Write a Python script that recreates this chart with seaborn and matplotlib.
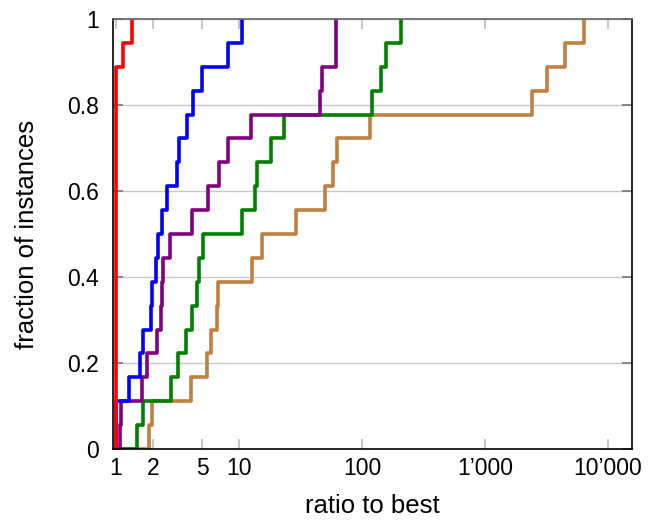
import numpy as np
import pandas as pd
import seaborn as sns
import matplotlib.pyplot as plt
from matplotlib.ticker import FixedLocator, FixedFormatter, NullLocator

# ratio to best solver on each of the 18 instances (read from the profile)
ratio_red = [1.0] * 16 + [1.14, 1.35]
ratio_blue = [1.0, 1.0, 1.28, 1.57, 1.65, 1.91, 1.97, 2.10, 2.21, 2.37,
              2.58, 3.11, 3.23, 3.76, 4.25, 4.98, 8.19, 10.5]
ratio_purple = [1.08, 1.09, 1.62, 1.80, 2.14, 2.32, 2.38, 2.42, 2.75, 4.12,
                5.63, 6.92, 8.19, 12.5, 45.6, 47.0, 61.5, 61.8]
ratio_green = [1.47, 1.67, 2.80, 3.21, 3.71, 4.15, 4.53, 4.76, 5.13, 10.5,
               13.5, 13.9, 18.1, 23.4, 120, 142, 157, 206]
ratio_brown = [1.86, 1.95, 4.05, 5.52, 5.89, 6.59, 6.79, 12.7, 15.3, 28.9,
               50.0, 57.8, 63.0, 116, 2400, 3175, 4470, 6415]

solvers = ['brown', 'green', 'purple', 'blue', 'red']
ratios = [ratio_brown, ratio_green, ratio_purple, ratio_blue, ratio_red]
colors = ['#BF8040', '#008000', '#800080', '#0000FF', '#FF0000']

tick_values = [1, 2, 5, 10, 100, 1000, 10000]
tick_labels = ['1', '2', '5', '10', '100', '1\u2019000', '10\u2019000']

df = pd.DataFrame({
    'solver': np.repeat(solvers, [len(r) for r in ratios]),
    'ratio': np.concatenate(ratios),
})

sns.set_style('white')
plt.rcParams['font.family'] = ['Liberation Sans', 'DejaVu Sans']
plt.rcParams['text.color'] = 'black'
plt.rcParams['axes.labelcolor'] = 'black'

fig = plt.figure(figsize=(6.49, 5.2), dpi=100)
ax = fig.add_axes([113 / 649, 1 - 449 / 520, (632 - 113) / 649, (449 - 19) / 520])
ax.set_xscale('log')

# one call per solver so red ends up drawn on top
for name, col in zip(solvers, colors):
    sns.ecdfplot(data=df[df['solver'] == name], x='ratio', color=col,
                 linewidth=2.6, ax=ax)

ax.set_xlim(0.945, 15700)
ax.set_ylim(0, 1)

ax.xaxis.set_major_locator(FixedLocator(tick_values))
ax.xaxis.set_major_formatter(FixedFormatter(tick_labels))
ax.xaxis.set_minor_locator(NullLocator())
ax.set_yticks([0, 0.2, 0.4, 0.6, 0.8, 1])
ax.set_yticklabels(['0', '0.2', '0.4', '0.6', '0.8', '1'])

ax.tick_params(axis='x', direction='in', length=7, width=1.2, color='#bbbbbb',
               labelcolor='black', top=True, bottom=True, labelsize=16.5, pad=6)
ax.tick_params(axis='y', direction='in', length=7, width=1.2, color='#777777',
               labelcolor='black', left=True, right=True, labelsize=16.5, pad=10)

ax.yaxis.grid(True, color='#c8c8c8', linewidth=1)
ax.set_axisbelow(True)

for side in ['left', 'bottom', 'right']:
    ax.spines[side].set_color('black')
    ax.spines[side].set_linewidth(1.2)
ax.spines['top'].set_color('#666666')
ax.spines['top'].set_linewidth(1.2)

ax.set_xlabel('ratio to best', fontsize=18.5, labelpad=10)
ax.set_ylabel('fraction of instances', fontsize=18.5, labelpad=20)

plt.savefig('out.png', dpi=100)
